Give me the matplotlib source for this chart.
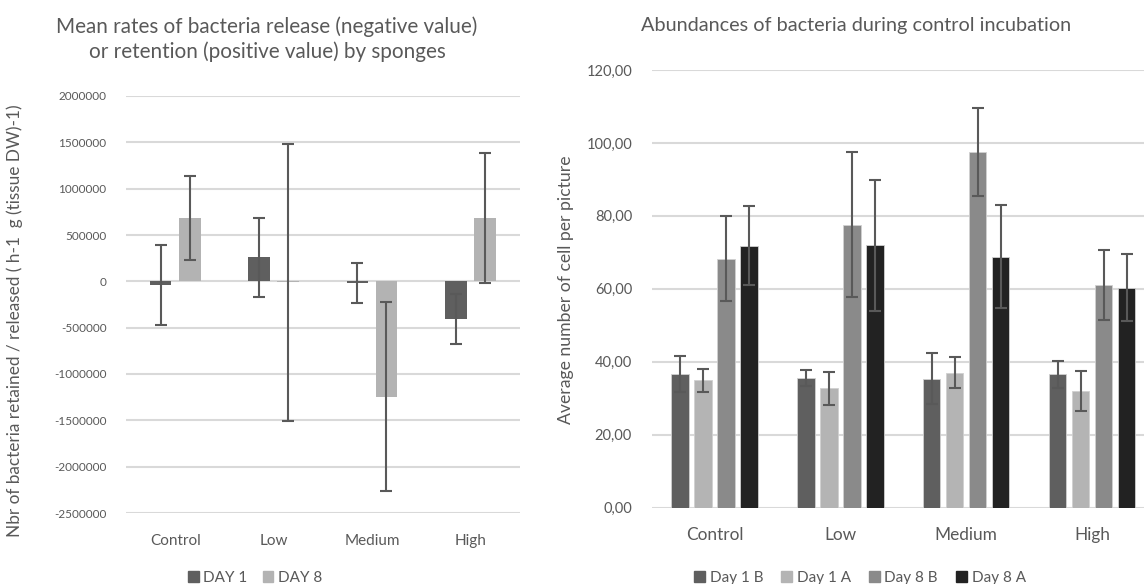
import numpy as np
import matplotlib
matplotlib.use("Agg")
import matplotlib.pyplot as plt
from matplotlib.patches import Patch
from matplotlib.ticker import FuncFormatter

# Sponge treatments (shared x categories)
categories = ["Control", "Low", "Medium", "High"]

# Retention / release rates (cells h-1 g-1 tissue DW)
day1_rate = [-40000, 260000, -19000, -405000]
day1_rate_err = [428000, 424000, 215000, 267000]
day8_rate = [685000, -8000, -1245000, 683000]
day8_rate_err = [450000, 1495000, 1017000, 703000]

# Bacteria counts during control incubation (cells per picture)
day1b = [36.7, 35.6, 35.4, 36.5]
day1b_err = [5.0, 2.2, 7.0, 3.6]
day1a = [34.9, 32.7, 37.0, 32.0]
day1a_err = [3.2, 4.6, 4.3, 5.4]
day8b = [68.3, 77.6, 97.5, 61.1]
day8b_err = [11.6, 19.8, 12.0, 9.6]
day8a = [71.8, 71.9, 68.8, 60.3]
day8a_err = [10.8, 17.9, 14.1, 9.2]

plt.rcParams['font.family'] = ['Lato', 'DejaVu Sans']
TXT = "#595959"
GRID = "#d9d9d9"
ERR = "#595959"

W, H = 1144, 584
fig = plt.figure(figsize=(W / 100, H / 100), dpi=100)


def px_axes(x0, y0, x1, y1):
    return fig.add_axes([x0 / W, 1 - y1 / H, (x1 - x0) / W, (y1 - y0) / H])


def style(ax):
    for s in ax.spines.values():
        s.set_visible(False)
    ax.yaxis.grid(True, color=GRID, linewidth=1.5)
    ax.set_axisbelow(True)
    ax.tick_params(axis='both', length=0, colors=TXT)
    ax.set_xticks(range(len(categories)))
    ax.set_xlim(-0.5, len(categories) - 0.5)


x = np.arange(len(categories))
ekw = dict(ecolor=ERR, elinewidth=1.5, capsize=4.5, capthick=1.5)

# ---- left chart: release / retention rates ----
ax1 = px_axes(126, 96, 519.5, 513)
style(ax1)
off = 0.1475
bw = 0.22
ax1.bar(x - off, day1_rate, bw, yerr=day1_rate_err, color="#5f5f5f", error_kw=ekw)
ax1.bar(x + off, day8_rate, bw, yerr=day8_rate_err, color="#b3b3b3", error_kw=ekw)
ax1.set_ylim(-2500000, 2000000)
ax1.set_yticks(np.arange(-2500000, 2000001, 500000))
ax1.yaxis.set_major_formatter(FuncFormatter(lambda v, p: f"{int(v)}"))
ax1.tick_params(axis='y', labelsize=8.5, pad=14)
ax1.set_xticklabels(categories, fontsize=11)
ax1.tick_params(axis='x', pad=15)
ax1.set_ylabel("Nbr of bacteria retained / released ( h-1  g (tissue DW)-1)",
               fontsize=12.4, color=TXT)
ax1.yaxis.set_label_coords(-(126 - 23) / 393.5, (513 - 321) / 417)
fig.text(267 / W, 1 - 39 / H,
         "Mean rates of bacteria release (negative value)\nor retention (positive value) by sponges",
         ha='center', va='center', fontsize=14.9, color=TXT, linespacing=1.3)
fig.legend([Patch(color="#5f5f5f"), Patch(color="#b3b3b3")], ["DAY 1", "DAY 8"],
           loc='center', bbox_to_anchor=(255 / W, 1 - 578 / H), ncol=2, frameon=False,
           fontsize=11, handlelength=0.7, handleheight=0.7, handletextpad=0.3,
           columnspacing=1.0, labelcolor=TXT)

# ---- right chart: control incubation abundances ----
ax2 = px_axes(651.5, 70, 1155, 507.6)
style(ax2)
pitch = 0.183
bw2 = 0.139
series = [(day1b, day1b_err, "#5f5f5f"), (day1a, day1a_err, "#b4b4b4"),
          (day8b, day8b_err, "#8a8a8a"), (day8a, day8a_err, "#222222")]
for i, (vals, errs, col) in enumerate(series):
    ax2.bar(x + (i - 1.5) * pitch, vals, bw2, yerr=errs, color=col,
            edgecolor="#d0d0d0", linewidth=0.6, error_kw=ekw)
ax2.set_ylim(0, 120)
ax2.set_yticks(np.arange(0, 121, 20))
ax2.yaxis.set_major_formatter(FuncFormatter(lambda v, p: f"{v:.2f}".replace(".", ",")))
ax2.tick_params(axis='y', labelsize=10.5, pad=14)
ax2.set_xticklabels(categories, fontsize=12.4)
ax2.tick_params(axis='x', pad=14)
ax2.set_ylabel("Average number of cell per picture", fontsize=12.7, color=TXT)
ax2.yaxis.set_label_coords(-(651.5 - 574) / 503.5, (507.6 - 290) / 437.6)
fig.text(856 / W, 1 - 25 / H, "Abundances of bacteria during control incubation",
         ha='center', va='center', fontsize=14.3, color=TXT)
fig.legend([Patch(color=c) for _, _, c in series], ["Day 1 B", "Day 1 A", "Day 8 B", "Day 8 A"],
           loc='center', bbox_to_anchor=(860 / W, 1 - 578 / H), ncol=4, frameon=False,
           fontsize=11, handlelength=0.7, handleheight=0.7, handletextpad=0.3,
           columnspacing=1.2, labelcolor=TXT)

fig.savefig("out.png", dpi=100)
